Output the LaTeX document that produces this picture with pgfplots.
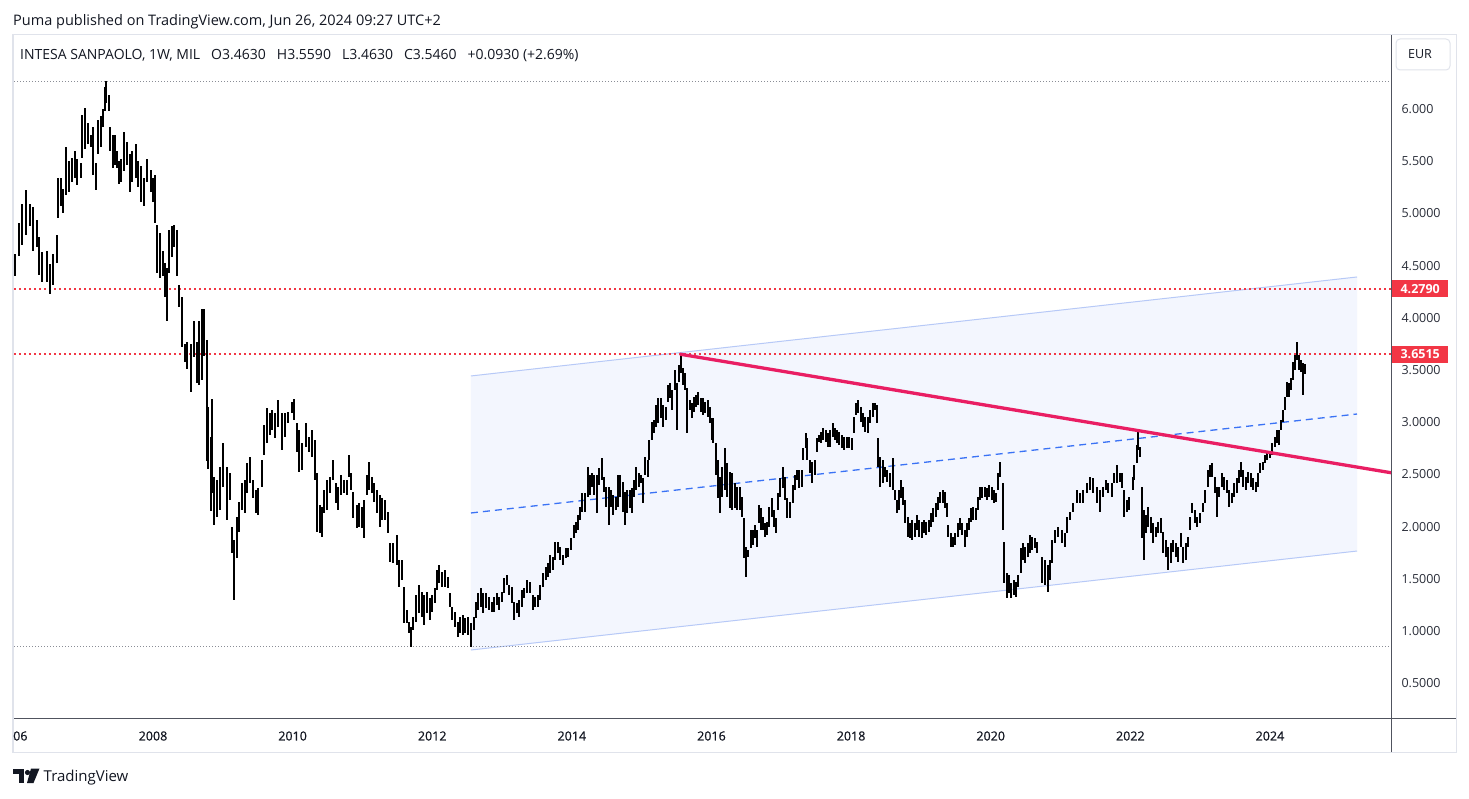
\documentclass[border=0pt]{standalone}
\usepackage{fontspec}
\setmainfont{Open Sans}
\newfontfamily\tvmed{Open Sans}[FakeBold=0.7]
\usepackage{pgfplots}
\usepackage{pgfplotstable}
\pgfplotsset{compat=1.18}
\definecolor{tvtext}{HTML}{131722}
\definecolor{tvlab}{HTML}{2A2E39}
\definecolor{tvred}{HTML}{F23645}
\definecolor{tvpink}{HTML}{E91E63}
\definecolor{chline}{HTML}{B7C9F7}
\definecolor{chfill}{HTML}{F3F6FE}
\definecolor{midblue}{HTML}{3A72F5}
\definecolor{dotgray}{HTML}{8A8D96}
\definecolor{tvborder}{HTML}{E0E3EB}
\definecolor{tvaxis}{HTML}{50535E}

\pgfplotstableread{
t h l
2006.023 4.610 4.397
2006.080 4.907 4.594
2006.123 5.089 4.693
2006.181 5.220 4.792
2006.238 5.089 4.875
2006.281 5.062 4.644
2006.338 4.941 4.676
2006.367 4.776 4.413
2006.410 4.628 4.347
2006.482 4.644 4.347
2006.525 4.512 4.231
2006.568 4.610 4.313
2006.625 4.792 4.528
2006.639 5.336 4.957
2006.682 5.336 5.072
2006.711 5.238 5.007
2006.754 5.633 5.172
2006.797 5.501 5.204
2006.840 5.535 5.304
2006.883 5.600 5.336
2006.911 5.517 5.270
2006.969 5.485 5.336
2006.983 5.946 5.535
2007.026 6.013 5.617
2007.069 5.864 5.666
2007.112 5.748 5.633
2007.140 5.831 5.369
2007.183 5.485 5.220
2007.212 5.897 5.567
2007.255 5.930 5.633
2007.284 5.996 5.831
2007.312 6.210 5.979
2007.327 6.266 6.062
2007.370 6.134 5.979
2007.384 5.831 5.600
2007.427 5.748 5.435
2007.456 5.748 5.468
2007.484 5.600 5.435
2007.513 5.501 5.277
2007.542 5.517 5.304
2007.585 5.782 5.402
2007.628 5.683 5.468
2007.670 5.567 5.204
2007.699 5.600 5.304
2007.756 5.666 5.336
2007.785 5.501 5.254
2007.828 5.451 5.105
2007.871 5.336 5.072
2007.914 5.517 5.304
2007.971 5.419 5.204
2008.000 5.336 5.105
2008.029 5.369 4.907
2008.057 4.891 4.429
2008.100 4.809 4.379
2008.143 4.644 4.397
2008.172 4.528 4.198
2008.200 4.479 3.968
2008.229 4.841 4.429
2008.272 4.875 4.578
2008.301 4.891 4.676
2008.344 4.841 4.397
2008.372 4.313 4.100
2008.415 4.198 3.720
2008.458 3.753 3.572
2008.487 3.769 3.506
2008.544 3.753 3.291
2008.587 3.968 3.621
2008.630 3.769 3.374
2008.659 3.968 3.357
2008.702 4.082 3.406
2008.730 4.082 3.638
2008.773 3.786 2.631
2008.788 3.143 2.549
2008.831 2.862 2.153
2008.845 3.225 2.318
2008.874 2.475 2.015
2008.917 2.446 2.092
2008.960 2.571 2.159
2009.003 2.801 2.379
2009.060 2.571 2.063
2009.103 2.513 2.255
2009.132 1.996 1.747
2009.160 1.872 1.297
2009.203 2.092 1.699
2009.232 2.236 1.948
2009.275 2.418 2.159
2009.318 2.446 2.130
2009.346 2.609 2.322
2009.389 2.667 2.418
2009.432 2.446 2.274
2009.475 2.351 2.130
2009.504 2.370 2.111
2009.561 2.638 2.379
2009.590 2.973 2.686
2009.633 3.136 2.801
2009.676 3.088 2.877
2009.704 3.117 2.925
2009.747 3.088 2.849
2009.790 3.213 2.954
2009.848 3.088 2.734
2009.891 3.088 2.858
2009.934 3.098 2.992
2009.991 3.194 3.088
2010.020 3.222 3.021
2010.062 2.992 2.715
2010.091 2.925 2.523
2010.134 2.801 2.542
2010.191 2.992 2.763
2010.234 2.858 2.715
2010.277 2.925 2.667
2010.320 2.830 2.446
2010.349 2.513 1.948
2010.392 2.207 1.939
2010.421 2.188 1.900
2010.449 2.351 2.130
2010.492 2.446 2.159
2010.535 2.475 2.322
2010.578 2.638 2.446
2010.621 2.418 2.226
2010.650 2.379 2.159
2010.693 2.494 2.303
2010.736 2.446 2.322
2010.779 2.446 2.303
2010.807 2.686 2.475
2010.836 2.513 2.351
2010.865 2.332 2.082
2010.922 2.207 1.987
2010.951 2.226 1.996
2010.994 2.188 1.987
2011.022 2.255 1.891
2011.065 2.494 2.303
2011.094 2.619 2.351
2011.137 2.475 2.322
2011.166 2.418 2.236
2011.208 2.351 2.130
2011.251 2.303 1.996
2011.280 2.274 2.063
2011.323 2.255 2.063
2011.366 2.140 1.939
2011.395 1.843 1.661
2011.438 1.843 1.652
2011.495 1.920 1.632
2011.524 1.680 1.421
2011.567 1.680 1.489
2011.595 1.421 1.077
2011.638 1.201 1.077
2011.667 1.086 0.981
2011.696 1.038 0.847
2011.724 1.134 1.010
2011.767 1.345 1.086
2011.810 1.441 1.173
2011.853 1.374 1.134
2011.882 1.345 1.058
2011.925 1.374 1.173
2011.968 1.316 1.105
2011.996 1.345 1.182
2012.039 1.412 1.268
2012.068 1.584 1.393
2012.097 1.632 1.460
2012.140 1.565 1.421
2012.183 1.584 1.421
2012.225 1.517 1.412
2012.254 1.364 1.230
2012.283 1.230 1.105
2012.326 1.182 1.038
2012.369 1.086 0.943
2012.397 1.134 0.981
2012.440 1.153 0.962
2012.469 1.125 0.981
2012.512 1.134 0.962
2012.555 1.077 0.847
2012.598 1.134 1.010
2012.627 1.278 1.125
2012.655 1.364 1.201
2012.698 1.412 1.230
2012.727 1.364 1.173
2012.770 1.364 1.220
2012.813 1.326 1.201
2012.856 1.278 1.182
2012.884 1.326 1.182
2012.927 1.364 1.249
2012.956 1.326 1.201
2012.999 1.374 1.278
2013.028 1.508 1.364
2013.071 1.536 1.441
2013.099 1.441 1.345
2013.142 1.421 1.268
2013.171 1.278 1.105
2013.214 1.268 1.173
2013.243 1.297 1.134
2013.285 1.393 1.230
2013.314 1.412 1.316
2013.357 1.489 1.364
2013.400 1.469 1.364
2013.443 1.345 1.201
2013.472 1.326 1.230
2013.515 1.345 1.230
2013.543 1.441 1.297
2013.586 1.556 1.421
2013.629 1.613 1.489
2013.658 1.652 1.517
2013.687 1.728 1.556
2013.730 1.709 1.584
2013.758 1.853 1.680
2013.801 1.853 1.747
2013.830 1.805 1.680
2013.873 1.728 1.632
2013.916 1.795 1.699
2013.944 1.795 1.709
2013.987 1.891 1.776
2014.030 2.015 1.891
2014.059 2.044 1.939
2014.088 2.111 1.968
2014.116 2.188 2.063
2014.145 2.322 2.140
2014.188 2.322 2.140
2014.231 2.571 2.284
2014.259 2.494 2.303
2014.288 2.513 2.379
2014.317 2.494 2.303
2014.360 2.494 2.130
2014.388 2.561 2.399
2014.431 2.657 2.446
2014.460 2.475 2.332
2014.489 2.379 2.188
2014.532 2.379 2.015
2014.560 2.351 2.188
2014.589 2.303 2.111
2014.632 2.284 2.159
2014.661 2.494 2.188
2014.689 2.494 2.284
2014.732 2.427 2.140
2014.761 2.332 2.015
2014.790 2.351 2.130
2014.832 2.351 2.178
2014.861 2.370 2.130
2014.890 2.446 2.284
2014.918 2.571 2.351
2014.961 2.513 2.379
2014.990 2.494 2.418
2015.019 2.466 2.226
2015.047 2.667 2.494
2015.090 2.638 2.475
2015.105 2.830 2.638
2015.148 3.002 2.830
2015.176 3.021 2.897
2015.205 3.165 2.954
2015.234 3.232 2.992
2015.276 3.232 3.040
2015.305 3.165 2.954
2015.348 3.146 3.021
2015.377 3.356 3.194
2015.405 3.376 3.232
2015.434 3.309 3.117
2015.477 3.500 3.309
2015.506 3.376 2.925
2015.534 3.548 3.385
2015.563 3.653 3.471
2015.592 3.519 3.356
2015.620 3.471 3.309
2015.649 3.328 2.897
2015.692 3.213 3.117
2015.721 3.184 3.040
2015.749 3.241 3.098
2015.778 3.261 3.146
2015.806 3.289 3.165
2015.849 3.232 3.098
2015.878 3.232 3.069
2015.907 3.194 3.088
2015.950 3.213 3.050
2015.978 3.146 2.992
2016.007 3.040 2.830
2016.021 3.040 2.801
2016.064 2.801 2.494
2016.093 2.638 2.274
2016.122 2.475 2.130
2016.150 2.571 2.284
2016.193 2.753 2.351
2016.222 2.609 2.284
2016.265 2.523 2.178
2016.294 2.513 2.159
2016.336 2.418 2.178
2016.365 2.379 2.159
2016.408 2.379 2.159
2016.437 2.284 2.092
2016.465 2.082 1.699
2016.494 1.805 1.517
2016.523 1.776 1.709
2016.566 1.968 1.795
2016.594 1.968 1.824
2016.623 2.015 1.891
2016.652 1.968 1.805
2016.680 2.207 2.035
2016.709 2.178 1.968
2016.738 2.092 1.968
2016.766 2.035 1.900
2016.795 2.044 1.920
2016.824 2.188 1.996
2016.866 2.274 2.092
2016.895 2.159 1.996
2016.924 2.082 1.939
2016.952 2.322 2.159
2016.981 2.466 2.284
2017.024 2.571 2.370
2017.053 2.475 2.255
2017.081 2.274 2.082
2017.124 2.236 2.082
2017.167 2.399 2.226
2017.196 2.494 2.351
2017.225 2.542 2.446
2017.253 2.542 2.370
2017.296 2.542 2.379
2017.310 2.753 2.638
2017.353 2.897 2.753
2017.368 2.849 2.638
2017.411 2.638 2.513
2017.439 2.619 2.418
2017.482 2.638 2.494
2017.511 2.849 2.715
2017.540 2.877 2.810
2017.568 2.906 2.801
2017.597 2.944 2.830
2017.640 2.925 2.810
2017.669 2.897 2.763
2017.697 2.925 2.763
2017.740 2.992 2.858
2017.769 2.944 2.830
2017.798 2.925 2.801
2017.826 2.906 2.782
2017.869 2.877 2.753
2017.898 2.858 2.734
2017.941 2.858 2.753
2017.969 2.858 2.753
2018.012 2.849 2.734
2018.041 3.050 2.897
2018.070 3.184 3.069
2018.098 3.213 3.088
2018.141 3.146 3.002
2018.170 3.088 2.954
2018.199 3.050 2.906
2018.242 3.050 2.897
2018.270 3.117 2.992
2018.313 3.184 3.050
2018.342 3.184 3.117
2018.370 3.165 2.992
2018.385 2.849 2.571
2018.413 2.667 2.379
2018.456 2.638 2.418
2018.485 2.571 2.475
2018.514 2.542 2.427
2018.557 2.513 2.379
2018.600 2.657 2.351
2018.628 2.351 2.255
2018.657 2.255 2.130
2018.686 2.351 2.159
2018.714 2.446 2.274
2018.743 2.379 2.207
2018.772 2.255 2.035
2018.815 2.092 1.900
2018.843 2.035 1.891
2018.872 2.063 1.872
2018.915 2.035 1.900
2018.943 2.111 1.968
2018.972 2.063 1.900
2019.015 2.044 1.891
2019.044 2.063 1.939
2019.072 2.044 1.920
2019.115 2.063 1.948
2019.144 2.130 1.996
2019.173 2.178 2.044
2019.216 2.226 2.092
2019.244 2.284 2.159
2019.273 2.332 2.226
2019.316 2.351 2.226
2019.345 2.332 2.178
2019.373 2.226 2.092
2019.388 2.015 1.900
2019.430 1.939 1.805
2019.459 1.900 1.805
2019.488 1.939 1.824
2019.531 2.035 1.900
2019.559 2.082 1.968
2019.588 2.035 1.920
2019.631 1.968 1.805
2019.660 2.035 1.900
2019.688 2.082 1.968
2019.717 2.178 2.044
2019.746 2.188 2.063
2019.789 2.178 2.063
2019.817 2.284 2.159
2019.846 2.379 2.255
2019.874 2.379 2.274
2019.917 2.379 2.284
2019.946 2.370 2.255
2019.975 2.399 2.284
2020.018 2.379 2.255
2020.046 2.351 2.226
2020.075 2.322 2.236
2020.104 2.513 2.351
2020.132 2.619 2.475
2020.175 2.418 1.968
2020.190 1.853 1.460
2020.233 1.556 1.316
2020.261 1.536 1.364
2020.290 1.460 1.316
2020.333 1.489 1.345
2020.362 1.469 1.326
2020.390 1.536 1.421
2020.433 1.795 1.556
2020.462 1.843 1.680
2020.490 1.805 1.652
2020.533 1.843 1.709
2020.562 1.920 1.747
2020.591 1.900 1.776
2020.634 1.891 1.795
2020.662 1.853 1.747
2020.734 1.709 1.460
2020.777 1.680 1.441
2020.820 1.632 1.374
2020.849 1.680 1.489
2020.877 1.872 1.652
2020.920 1.968 1.843
2020.963 1.996 1.900
2021.020 1.968 1.843
2021.063 1.939 1.805
2021.092 2.092 1.939
2021.135 2.140 2.063
2021.178 2.226 2.140
2021.235 2.351 2.226
2021.278 2.322 2.226
2021.321 2.351 2.226
2021.378 2.418 2.322
2021.421 2.475 2.351
2021.464 2.466 2.322
2021.522 2.379 2.226
2021.565 2.351 2.140
2021.608 2.379 2.284
2021.651 2.446 2.351
2021.679 2.418 2.322
2021.737 2.418 2.284
2021.765 2.513 2.418
2021.808 2.590 2.418
2021.851 2.513 2.427
2021.880 2.513 2.370
2021.909 2.351 2.092
2021.951 2.255 2.140
2021.980 2.284 2.159
2022.037 2.475 2.351
2022.052 2.590 2.446
2022.095 2.782 2.609
2022.109 2.925 2.734
2022.138 2.763 2.667
2022.166 2.379 1.891
2022.195 2.159 1.680
2022.224 2.111 1.939
2022.252 2.188 1.996
2022.295 2.092 1.939
2022.324 2.035 1.843
2022.367 1.996 1.900
2022.396 2.044 1.939
2022.439 2.082 1.939
2022.467 1.948 1.747
2022.510 1.872 1.709
2022.539 1.805 1.584
2022.582 1.843 1.652
2022.611 1.872 1.757
2022.653 1.843 1.709
2022.682 1.805 1.661
2022.725 1.939 1.805
2022.754 1.805 1.652
2022.797 1.843 1.680
2022.825 1.900 1.805
2022.854 2.092 1.968
2022.883 2.226 2.130
2022.926 2.159 2.035
2022.955 2.092 1.996
2022.997 2.130 2.035
2023.040 2.226 2.140
2023.069 2.351 2.226
2023.112 2.542 2.379
2023.140 2.590 2.475
2023.169 2.609 2.475
2023.212 2.475 2.322
2023.241 2.379 2.092
2023.269 2.379 2.284
2023.312 2.513 2.379
2023.341 2.475 2.351
2023.384 2.446 2.322
2023.413 2.351 2.188
2023.456 2.322 2.226
2023.484 2.418 2.284
2023.527 2.466 2.322
2023.556 2.542 2.418
2023.584 2.619 2.475
2023.613 2.542 2.379
2023.656 2.475 2.351
2023.685 2.523 2.418
2023.728 2.513 2.379
2023.756 2.466 2.351
2023.799 2.427 2.332
2023.828 2.513 2.379
2023.857 2.609 2.513
2023.900 2.619 2.542
2023.928 2.686 2.609
2023.957 2.715 2.638
2024.000 2.715 2.657
2024.029 2.801 2.686
2024.071 2.858 2.763
2024.100 2.925 2.801
2024.129 2.925 2.782
2024.158 3.021 2.925
2024.186 3.117 3.002
2024.215 3.241 3.117
2024.243 3.385 3.241
2024.272 3.376 3.241
2024.301 3.423 3.309
2024.330 3.577 3.404
2024.358 3.644 3.500
2024.387 3.768 3.596
2024.416 3.644 3.500
2024.444 3.596 3.481
2024.472 3.567 3.261
2024.501 3.559 3.463
}\candles

\begin{document}
\begin{tikzpicture}[x=1pt,y=1pt]
\fill[white] (0,0) rectangle (1469,798);
% panel border
\draw[tvborder, line width=1.5pt] (12.75,45.5) rectangle (1456.5,763.5);
\begin{axis}[
  at={(14pt,80pt)}, anchor=south west,
  scale only axis, width=1377pt, height=683pt,
  xmin=2006.009, xmax=2025.734, ymin=0.1667, ymax=6.709,
  axis line style={draw=none},
  tick style={draw=none},
  clip=false,
  xtick={2008,2010,2012,2014,2016,2018,2020,2022,2024},
  xticklabels={2008,2010,2012,2014,2016,2018,2020,2022,2024},
  extra x ticks={2006.1}, extra x tick labels={06},
  xticklabel style={anchor=center, yshift=-18pt, font=\tvmed\fontsize{12.5}{14}\selectfont, text=tvtext},
  ytick={0.5,1,1.5,2,2.5,3,3.5,4,4.5,5,5.5,6},
  yticklabels={0.5000,1.0000,1.5000,2.0000,2.5000,3.0000,3.5000,4.0000,4.5000,5.0000,5.500,6.000},
  yticklabel pos=right,
  yticklabel style={anchor=west, xshift=7pt, font=\fontsize{12.5}{14}\selectfont, text=tvlab},
]
% parallel channel
\addplot[fill=chfill, draw=none, forget plot] coordinates {(2012.555,3.443) (2025.247,4.391) (2025.247,1.766) (2012.555,0.818)} -- cycle;
\addplot[chline, line width=1pt, forget plot] coordinates {(2012.555,3.443) (2025.247,4.391)};
\addplot[chline, line width=1pt, forget plot] coordinates {(2012.555,0.818) (2025.247,1.766)};
\addplot[midblue, line width=1.3pt, dash pattern=on 7pt off 5pt, forget plot] coordinates {(2012.555,2.1305) (2025.247,3.0785)};
% horizontal levels
\addplot[tvred, line width=2pt, dash pattern=on 2pt off 3pt, forget plot] coordinates {(2006.009,4.279) (2025.734,4.279)};
\addplot[tvred, line width=2pt, dash pattern=on 2pt off 3pt, forget plot] coordinates {(2006.009,3.6515) (2025.734,3.6515)};
\addplot[dotgray, line width=1pt, dash pattern=on 1pt off 2pt, forget plot] coordinates {(2006.009,6.268) (2025.734,6.268)};
\addplot[dotgray, line width=1pt, dash pattern=on 1pt off 2pt, forget plot] coordinates {(2006.009,0.847) (2025.734,0.847)};
% weekly bars (high-low)
\addplot[draw=none, mark=none, forget plot,
  error bars/.cd, y dir=both, y explicit, error mark=none,
  error bar style={line width=2.2pt, draw=black, solid}]
  table[x=t, y expr={(\thisrow{h}+\thisrow{l})/2}, y error expr={(\thisrow{h}-\thisrow{l})/2}] {\candles};
% trend line
\addplot[tvpink, line width=3.3pt, forget plot] coordinates {(2015.549,3.6515) (2025.734,2.516)};
% price labels
\node[fill=tvred, text=white, anchor=west, minimum width=56pt, minimum height=17pt, inner sep=0pt, font=\bfseries\fontsize{12.5}{14}\selectfont, xshift=1pt] at (axis cs:2025.734,4.279) {4.2790};
\node[fill=tvred, text=white, anchor=west, minimum width=56pt, minimum height=17pt, inner sep=0pt, font=\bfseries\fontsize{12.5}{14}\selectfont, xshift=1pt] at (axis cs:2025.734,3.6515) {3.6515};
\end{axis}
% separators
\draw[tvaxis, line width=1pt] (14,79.5) -- (1456,79.5);
\draw[tvaxis, line width=1pt] (1391,46) -- (1391,763);
% currency box
\draw[tvborder, line width=1pt, rounded corners=4pt, fill=white] (1396,728) rectangle (1450,759);
\node[font=\fontsize{12.5}{14}\selectfont, text=tvtext] at (1420,743.5) {EUR};
% header texts
\node[anchor=base west, inner sep=0pt, font=\fontsize{14.5}{16}\selectfont, text=tvtext] at (13,772) {Puma published on TradingView.com, Jun 26, 2024 09:27 UTC+2};
\node[anchor=base west, inner sep=0pt, font=\fontsize{14}{16}\selectfont, text=tvtext] at (20,738.5) {INTESA SANPAOLO, 1W, MIL\hspace{11pt}O3.4630\hspace{11pt}H3.5590\hspace{11pt}L3.4630\hspace{11pt}C3.5460\hspace{11pt}+0.0930 (+2.69\%)};
% TradingView logo
\fill[tvtext] (13,24) rectangle (24,29.5);
\fill[tvtext] (18.5,15) rectangle (24,29.5);
\fill[tvtext] (27.5,25.5) circle (2.6);
\fill[tvtext] (31,29.5) -- (39.5,29.5) -- (33.5,15) -- (27,15) -- cycle;
\node[anchor=base west, inner sep=0pt, font=\fontsize{15}{17}\selectfont, text=tvtext] at (43.5,16.3) {TradingView};
\end{tikzpicture}
\end{document}
